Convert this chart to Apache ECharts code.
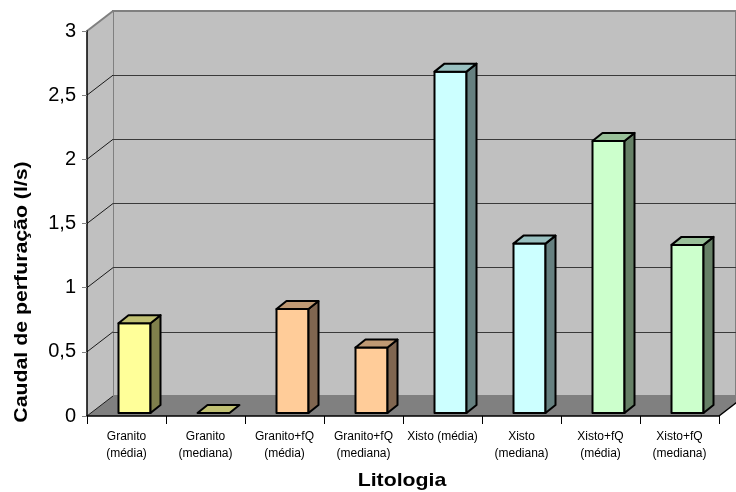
<!DOCTYPE html>
<html>
<head>
<meta charset="utf-8">
<script src="https://cdn.jsdelivr.net/npm/echarts@6/dist/echarts.min.js"></script>
<style>
  html, body { margin: 0; padding: 0; background: #fff; }
  #chart { width: 736px; height: 492px; }
</style>
</head>
<body>
<div id="chart"></div>
<script>
// Perforation yield by lithology (3-D column look)
const categories = [
  'Granito\n(média)', 'Granito\n(mediana)', 'Granito+fQ\n(média)', 'Granito+fQ\n(mediana)',
  'Xisto (média)', 'Xisto\n(mediana)', 'Xisto+fQ\n(média)', 'Xisto+fQ\n(mediana)'
];
const caudal = [0.70, 0, 0.81, 0.51, 2.66, 1.32, 2.12, 1.31];
const yTicks = [0, 0.5, 1, 1.5, 2, 2.5, 3];

// Face colours per column: [front, side, top]
const faceColors = [
  ['#FFFF99', '#80804C', '#C0C073'],
  ['#FFFF99', '#80804C', '#C0C073'],
  ['#FFCC99', '#806650', '#BF9973'],
  ['#FFCC99', '#806650', '#BF9973'],
  ['#CCFFFF', '#668080', '#99C0C0'],
  ['#CCFFFF', '#668080', '#99C0C0'],
  ['#CCFFCC', '#668066', '#99C099'],
  ['#CCFFCC', '#668066', '#99C099']
];

const FONT = '"Liberation Sans", Arial, sans-serif';
const DEPTH_X = 26, DEPTH_Y = -20;   // wall depth
const BAR_DX = 10, BAR_DY = -8;      // column depth
const PLOT = { left: 87, top: 31, width: 632, height: 385 };

const chart = echarts.init(document.getElementById('chart'), null, { renderer: 'canvas' });

function decimalComma(v) { return String(v).replace('.', ','); }

const option = {
  backgroundColor: '#ffffff',
  animation: false,
  grid: [
    { left: PLOT.left, top: PLOT.top, width: PLOT.width, height: PLOT.height, containLabel: false, z: 2 },
    { left: PLOT.left + DEPTH_X, top: PLOT.top + DEPTH_Y, width: 700, height: PLOT.height,
      show: true, backgroundColor: '#C0C0C0', borderColor: '#808080', borderWidth: 2, z: 0 }
  ],
  xAxis: [
    {
      type: 'category', gridIndex: 0, data: categories, boundaryGap: true, z: 6,
      axisLine: { show: true, lineStyle: { color: '#000', width: 1.5 } },
      axisTick: { show: true, length: 8, lineStyle: { color: '#000' } },
      axisLabel: { fontFamily: FONT, fontSize: 12, color: '#000', lineHeight: 17, margin: 12, interval: 0 }
    },
    { type: 'category', gridIndex: 1, data: categories, show: false }
  ],
  yAxis: [
    {
      type: 'value', gridIndex: 0, min: 0, max: 3, interval: 0.5, z: 6,
      axisLine: { show: true, lineStyle: { color: '#000', width: 1.5 } },
      axisTick: { show: true, length: 5, lineStyle: { color: '#808080' } },
      axisLabel: { fontFamily: FONT, fontSize: 20, color: '#000', margin: 11, formatter: decimalComma },
      splitLine: { show: false }
    },
    {
      type: 'value', gridIndex: 1, min: 0, max: 3, interval: 0.5,
      axisLine: { show: false }, axisTick: { show: false }, axisLabel: { show: false },
      splitLine: { show: true, showMaxLine: false, showMinLine: false, lineStyle: { color: '#3a3a3a', width: 1.2 } }
    }
  ],
  graphic: [
    // side wall
    { type: 'polygon', z: 1, silent: true,
      shape: { points: [[PLOT.left, PLOT.top], [PLOT.left + DEPTH_X, PLOT.top + DEPTH_Y],
                        [PLOT.left + DEPTH_X, PLOT.top + PLOT.height + DEPTH_Y], [PLOT.left, PLOT.top + PLOT.height]] },
      style: { fill: '#C0C0C0' } },
    // floor
    { type: 'polygon', z: 1, silent: true,
      shape: { points: [[PLOT.left, PLOT.top + PLOT.height], [PLOT.left + PLOT.width, PLOT.top + PLOT.height],
                        [PLOT.left + PLOT.width + DEPTH_X, PLOT.top + PLOT.height + DEPTH_Y],
                        [PLOT.left + DEPTH_X, PLOT.top + PLOT.height + DEPTH_Y]] },
      style: { fill: '#808080' } },
    // floor right edge
    { type: 'line', z: 6, silent: true,
      shape: { x1: PLOT.left + PLOT.width, y1: PLOT.top + PLOT.height,
               x2: PLOT.left + PLOT.width + DEPTH_X, y2: PLOT.top + PLOT.height + DEPTH_Y },
      style: { stroke: '#000', lineWidth: 1.5 } },
    // axis titles
    { type: 'text', z: 10, x: 22, y: 292, rotation: Math.PI / 2, scaleX: 1.12, silent: true,
      style: { text: 'Caudal de perfuração (l/s)', font: 'bold 19px ' + FONT, fill: '#000',
               textAlign: 'center', textVerticalAlign: 'middle' } },
    { type: 'text', z: 10, x: 402, y: 481, scaleX: 1.12, silent: true,
      style: { text: 'Litologia', font: 'bold 19px ' + FONT, fill: '#000',
               textAlign: 'center', textVerticalAlign: 'middle' } }
  ],
  series: [
    {
      // gridlines across the side wall
      type: 'custom', xAxisIndex: 0, yAxisIndex: 0, z: 3, silent: true, clip: false,
      data: yTicks.map(v => [0, v]),
      renderItem: function (params, api) {
        const v = api.value(1);
        const y = api.coord([0, v])[1];
        const x = params.coordSys.x;
        const isTop = v === yTicks[yTicks.length - 1];
        return {
          type: 'line',
          shape: { x1: x, y1: y, x2: x + DEPTH_X, y2: y + DEPTH_Y },
          style: { stroke: isTop ? '#808080' : '#1a1a1a', lineWidth: isTop ? 2 : 1 }
        };
      }
    },
    {
      // 3-D columns
      type: 'custom', xAxisIndex: 0, yAxisIndex: 0, z: 10, clip: false,
      data: caudal.map((v, i) => [i, v]),
      renderItem: function (params, api) {
        const i = api.value(0);
        const v = api.value(1);
        const base = api.coord([i, 0]);
        const top = api.coord([i, v]);
        const c = faceColors[i];
        const x0 = base[0] - 8, x1 = x0 + 32;
        const yb = base[1] - 3, yt = top[1] - 3;
        const stroke = { stroke: '#000', lineWidth: 2, lineJoin: 'round' };
        const children = [];
        if (yb - yt > 0.5) {
          children.push({ type: 'polygon',
            shape: { points: [[x0, yt], [x1, yt], [x1, yb], [x0, yb]] },
            style: Object.assign({ fill: c[0] }, stroke) });
          children.push({ type: 'polygon',
            shape: { points: [[x1, yt], [x1 + BAR_DX, yt + BAR_DY], [x1 + BAR_DX, yb + BAR_DY], [x1, yb]] },
            style: Object.assign({ fill: c[1] }, stroke) });
        }
        children.push({ type: 'polygon',
          shape: { points: [[x0, yt], [x1, yt], [x1 + BAR_DX, yt + BAR_DY], [x0 + BAR_DX, yt + BAR_DY]] },
          style: Object.assign({ fill: c[2] }, stroke) });
        return { type: 'group', children: children };
      }
    }
  ]
};

chart.setOption(option);
</script>
</body>
</html>
